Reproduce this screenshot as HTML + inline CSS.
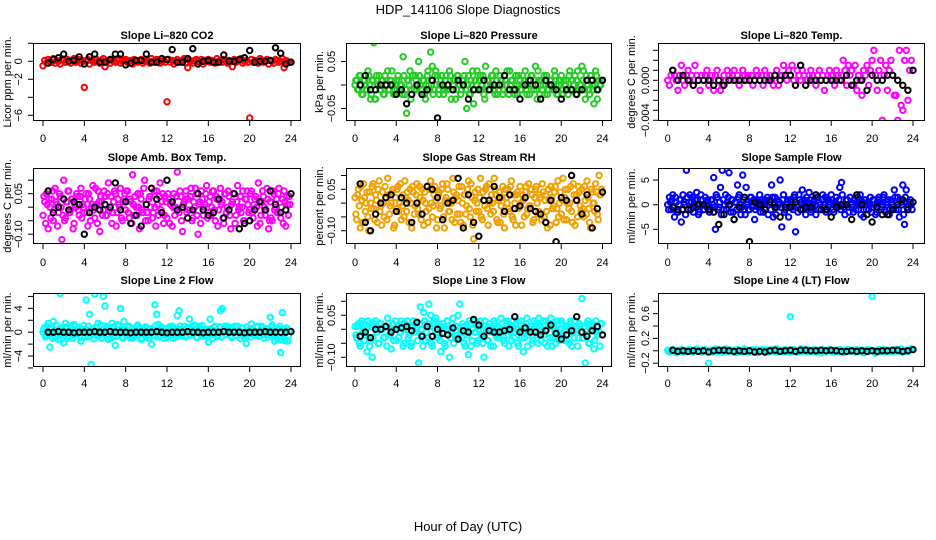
<!DOCTYPE html>
<html><head><meta charset="utf-8"><title>HDP_141106 Slope Diagnostics</title>
<style>
html,body{margin:0;padding:0;background:#fff;}
svg{display:block;font-family:"Liberation Sans",Arial,sans-serif;}
.tl{font-size:11px;fill:#000;}
.pt{font-size:11px;font-weight:bold;fill:#000;}
</style></head>
<body>
<svg id="chart" width="936" height="540" viewBox="0 0 936 540" xmlns="http://www.w3.org/2000/svg">
<rect x="0" y="0" width="936" height="540" fill="#fff"/>
<text x="468" y="14" text-anchor="middle" font-size="13">HDP_141106  Slope Diagnostics</text>
<text x="468" y="531" text-anchor="middle" font-size="13">Hour of Day (UTC)</text>
</svg>
<script>
// ---- data (values in panel units; see unitScale in panel config) ----
const xTicks = [0,4,8,12,16,20,24];
const co2Slope = [
-5,1,-2,2,0,-1,3,-2,1,0,-3,2,
1,-1,2,0,-2,1,3,-1,0,2,-2,1,
-29,0,2,-3,1,0,-1,2,0,-2,1,3,
-6,0,1,-2,2,0,-1,1,3,-2,0,1,
2,-1,0,1,-3,2,0,-1,1,2,-2,0,
1,0,-2,3,0,-1,2,1,-2,0,1,-1,
-45,2,-1,1,-3,0,2,-1,0,1,3,-2,
-7,1,0,-2,1,2,0,-1,2,-3,1,0,
2,-1,1,0,-2,3,0,1,-1,2,0,-2,
1,0,-6,2,-1,0,1,3,-2,0,1,-1,
-63,2,-1,1,0,-2,3,1,-1,0,2,-3,
1,0,-2,2,1,-1,0,3,-7,1,0,-1];
const co2Black = [-2,2,4,8,0,1,5,-3,5,8,-1,-1,2,8,8,-4,-2,1,1,8,-1,-1,3,2,13,-1,-1,3,14,-3,0,1,-1,-1,7,0,0,2,4,12,-1,0,0,1,15,9,-3,-1];
const pressSlope = [
0,1,-1,2,-2,1,0,-1,2,-3,1,9,
-3,0,2,-1,1,-2,0,3,-1,1,0,-2,
1,2,-1,0,6,-2,-6,1,3,-1,10,2,
-1,5,0,-2,1,-3,2,0,7,4,-1,3,
2,-2,1,0,-1,2,-1,3,-3,0,1,-1,
2,0,-1,1,5,-5,2,-2,0,-4,1,3,
-1,2,0,-2,4,1,-1,0,2,-1,3,-2,
0,1,-2,2,0,-1,3,1,-1,-2,0,2,
1,-1,0,3,-2,1,0,2,-1,4,-3,1,
0,-1,2,1,-2,0,1,-1,3,0,-2,1,
2,-1,0,1,-2,3,-1,0,2,1,-1,0,
4,3,-3,1,-1,2,0,-4,3,-3,1,0];
const pressSlope2 = [
1,-1,2,0,-2,1,-1,3,0,-2,1,-3,
2,0,-1,1,-2,2,0,-1,1,3,-2,0,
-1,1,0,-2,2,-1,1,0,-3,2,-1,1,
0,2,-1,1,-2,0,3,-1,1,-2,2,0,
-1,0,2,-2,1,-1,0,2,-1,1,-3,2,
0,-2,1,2,-1,0,-2,1,3,-1,0,2,
1,-1,2,-3,0,1,-1,2,0,-2,1,-1,
2,0,-1,1,3,-2,0,1,-1,2,-2,0,
-1,2,1,-1,0,-2,2,0,1,-1,3,-2,
1,0,-2,2,-1,1,0,-1,2,-2,0,1,
-2,1,0,-1,2,-1,1,0,-2,3,-1,0,
1,-1,2,0,-2,1,-1,0,2,-1,0,1];
const pressBlack = [0,2,-1,-1,0,0,0,-2,-1,-4,-2,0,-2,-1,1,-7,0,0,-1,1,0,-3,-1,-1,1,-1,0,0,2,-1,-1,-3,0,1,0,-3,1,0,-1,-3,-1,-1,-2,-1,1,1,-1,1];
const licorTempSlope = [
0,-1,1,2,1,0,-2,1,3,0,-1,1,
2,0,1,-1,3,1,0,-2,1,0,1,2,
-1,0,1,-2,1,2,0,-2,-1,1,0,2,
1,0,1,2,0,1,-1,0,2,1,0,1,
0,1,-1,0,2,1,0,1,-1,2,1,0,
1,0,-1,1,2,-1,0,1,3,1,0,2,
1,3,0,-1,2,1,0,2,1,-1,0,1,
2,1,0,-1,1,2,0,1,-2,0,1,2,
1,0,-1,2,1,0,1,4,2,-1,3,1,
2,-1,3,-2,1,0,-3,2,1,3,-1,2,
4,6,1,-2,2,4,-8,1,3,-2,2,4,
1,-3,-3,-8,6,-5,-6,4,6,-4,2,4];
const licorTempBlack = [2,0,1,0,-1,0,0,0,-1,0,-1,0,0,0,0,0,0,0,0,0,1,0,1,1,-1,3,-1,0,0,0,0,0,0,0,1,-1,0,0,-2,1,0,0,1,1,0,-1,-2,2];
const ambBoxSlope = [
-3,2,5,-8,0,3,-5,7,1,-2,4,-12,
10,-4,2,6,-1,3,-6,0,4,-3,7,1,
-2,5,-7,3,0,8,-4,1,6,-9,2,-1,
4,-3,9,0,-6,2,5,-2,1,7,-5,3,
-1,6,-4,2,12,-3,0,5,-8,3,-2,10,
1,-5,4,7,-2,0,6,-3,9,2,-6,4,
-4,3,1,-7,5,0,13,-2,4,-9,2,6,
3,-1,7,-4,0,5,-10,2,6,-3,1,8,
-2,4,0,6,-5,3,-1,7,2,-6,5,0,
4,-8,2,5,-3,8,0,-2,6,-5,3,1,
-1,6,-4,3,0,9,-6,2,4,-3,7,-8,
2,-5,5,0,-2,7,-4,3,6,-7,1,4];
const ambBoxSlope2 = [
4,-6,1,3,-4,6,-1,2,-7,5,0,-3,
-5,2,6,-2,3,-8,1,5,-1,4,-4,0,
3,-2,5,-5,1,-1,7,-6,2,4,-3,6,
-3,5,-1,4,-2,6,-7,3,0,-4,2,5,
6,-2,3,-6,1,4,-3,0,5,-1,7,-5,
-2,3,0,-4,6,-7,1,4,-1,5,-3,2,
5,-6,2,0,-3,4,-1,6,-5,1,3,-2,
-1,4,-5,2,7,-3,1,-6,3,0,5,-4,
2,-3,6,-1,4,-7,3,1,-4,5,-2,6,
-3,1,5,-6,2,-1,4,0,-5,3,6,-2,
5,-2,1,4,-7,2,-3,6,0,-1,3,-5,
-4,6,-1,3,5,-2,0,-6,2,4,-3,1];
const ambBoxBlack = [6,-2,0,3,-1,2,1,-10,-2,0,-1,1,0,9,-1,2,-6,-3,-7,1,7,3,-2,10,2,-1,0,-4,-1,5,-1,-3,-2,3,-4,-1,5,-8,-6,-5,-1,2,-1,6,1,-2,-1,5];
const rhSlope = [
2,-6,5,-9,1,7,-3,4,-10,0,6,-2,
3,-7,8,-1,4,-5,2,9,-4,0,5,-8,
-2,6,0,-6,3,8,-3,1,5,-9,4,-1,
7,-4,2,5,-8,0,6,-2,8,-5,3,1,
-6,4,-1,7,-9,2,5,-3,0,9,-7,3,
1,-4,6,-8,3,-1,8,-5,2,-13,4,0,
-3,9,-6,1,5,-2,7,-4,0,9,3,-7,
4,-1,6,-9,2,5,-3,8,-6,0,3,-2,
6,-8,1,4,-4,7,-1,3,-6,5,0,-3,
2,7,-5,3,-9,1,6,-2,4,-7,8,0,
-4,9,2,-6,5,0,-3,7,-8,3,6,-1,
5,-5,1,8,-2,-9,4,0,7,-4,10,3];
const rhSlope2 = [
-4,3,-1,6,-7,2,0,-5,4,-2,7,-6,
1,5,-3,-8,0,6,-6,3,-1,4,-9,2,
5,-3,7,-1,-5,2,4,-7,0,6,-4,3,
-2,6,-6,1,4,-3,-7,5,0,-1,6,-9,
3,-2,5,-5,1,7,-3,0,-6,4,2,-4,
6,-7,0,3,-4,5,-2,7,-8,1,-3,5,
2,-5,4,-1,6,-8,0,3,-3,5,-6,1,
-7,2,-4,5,0,-2,6,-5,3,-8,4,-1,
0,3,-5,6,-2,-1,5,-7,2,6,-4,3,
-6,4,1,-3,5,-8,2,-1,6,-2,-5,4,
1,-6,5,0,-2,6,-7,3,1,-5,4,-3,
-2,6,-4,2,-7,5,0,-3,4,-6,3,5];
const rhBlack = [7,-7,-10,-4,0,2,3,-3,2,0,-7,0,-4,6,5,2,-6,0,1,9,-9,3,-7,-12,1,1,6,2,-3,3,-2,-1,2,-2,-3,-4,-7,1,-14,2,1,10,1,-4,3,-9,-2,4];
const sampleFlowSlope = [
0,1.5,-1,2,-2.5,0.5,-1.5,1,-3.5,2,0,7,
-1,2,0.5,-1.5,1,2.5,-2,0,1,-1,1.5,-0.5,
0,-1,1,5.5,-5,1.5,-0.5,3.5,7,-1,2,0.5,
6.5,-1.5,1,-3,0.5,4,2,-2,6,-1,3.5,0,
-1,1.5,0,-3,1,-0.5,2,0,-1.5,1,0.5,-2,
1,4,-2.5,1.5,-0.5,0,5,-4.5,2,-1,0.5,-2.5,
1,-0.5,1.5,-5.5,0,2,-1,3,1,-2,0.5,2.5,
-1.5,0,1,-2,1.5,0.5,-1,2,0,-1.5,1,0.5,
2,-1,0,1.5,-0.5,3.5,4.5,0,-2,1,-0.5,1.5,
0,-1.5,1,0.5,-1,2,0,-2.5,1,0,-1,1.5,
-0.5,1,-2,0.5,1.5,-1,0,2,-1.5,0.5,-2,1,
0,3,-1,1.5,-2.5,0.5,4,-4,3,-1,0.5,0];
const sampleFlowSlope2 = [
-1,0.5,1,-0.5,1.5,-1.5,0,1,-1,0.5,-2,1.5,
0.5,-1,1.5,0,-0.5,1,-1.5,2,0,-1,0.5,1,
-1.5,1,0,-0.5,2,-1,0.5,-2,1,0,-1,1.5,
0,1,-1.5,0.5,-1,1.5,0,-0.5,1,-2,0.5,-1,
1.5,-0.5,1,-1,0,0.5,-1.5,1,0.5,-1,1.5,0,
-1,1.5,0,-2,1,0.5,-0.5,1,-1.5,0,1,-0.5,
0.5,-1,2,0,-1.5,1,0.5,-1,0,1.5,-0.5,1,
-1,0.5,0,1.5,-1,0,1,-0.5,1.5,-1,0,0.5,
1,-1.5,0.5,0,1,-1,2,-0.5,0,1,-1.5,0.5,
-0.5,1,-1,1.5,0,-2,0.5,1,-1,0.5,0,-1.5,
1,0,-1.5,1,0.5,-0.5,1.5,-1,0,1,-1,0.5,
-1,1.5,0.5,-1,1,0,-2,1.5,-0.5,0,1,-1];
const sampleFlowBlack = [-0.5,-1,-1,-1,-0.5,0,0,-1,-1.5,-4,-2,0,-3,-0.5,1.5,-7.5,0.5,0,-1,0.5,-0.5,-2.5,-0.5,-0.5,0.5,-1,-0.5,-0.5,2,-1,-1,-2.5,-0.5,0,0,-3,2,0,-2,-3.5,-0.5,-2,-2,-1,0,1,-1,0.5];
const line2Slope = [
0,0.8,-0.5,1.5,-2.5,0.5,1.8,-0.8,0,-1.2,6.5,0.5,
-1.8,1.5,0,-0.6,1,-1,1.3,0.2,-0.4,0.8,-1.5,0.3,
0.5,5.4,-0.8,3,-5.4,0.6,6.4,-0.5,1.5,0,-1,6,
4.4,0.8,-1.2,0.3,1.5,-0.6,-2.2,0.2,1,4,-0.8,1.8,
0.4,-0.6,1,0,-1,0.6,-0.3,1.2,0,-1.2,0.5,-0.4,
0.8,-0.5,0,-2,0.4,4.6,3,1.3,-0.6,0.2,-1,0.5,
0,0.6,-0.4,1,0.3,-0.8,2.8,3.6,0.5,-0.3,1,-0.5,
0.6,2.2,-0.4,0,1.2,-0.8,0.3,1,-0.5,0.4,0,-0.6,
-1.7,2.2,0.5,-0.4,1,-0.8,0,3.6,4,0.5,-0.3,1,
0,-0.6,0.8,0.3,-0.5,1,0,-0.4,0.6,-1,-1.9,0.2,
0.5,1.4,-0.3,0,0.8,-0.6,0.2,1,-0.4,0.5,0,-0.8,
2.5,1.2,-0.5,0,-1.2,0.6,-3.4,3.3,-1,0.4,-1.5,0.3];
const line2Slope2 = [
0.5,-0.8,1,-0.3,0.6,-1,0.2,1.2,-0.6,0.4,-1.2,0.8,
-0.4,0.9,-1,0.3,0.7,-0.5,1,-0.2,0.5,-0.9,0.3,1.1,
-0.7,0.4,1,-0.6,0.2,-1.1,0.8,0,-0.5,1.2,-0.3,0.6,
1,-0.4,0.5,-1,0.9,0.2,-0.7,1.3,-0.2,0.5,-1,0.4,
-0.3,0.8,-0.9,0.5,0.2,-0.6,1,-0.4,0.7,-1,0.3,0.9,
0.4,-1,0.6,0.1,-0.5,1.1,-0.8,0.3,0.9,-0.4,0.6,-0.9,
-0.6,0.9,0.2,-1,0.7,-0.3,0.5,1,-0.6,0.2,-0.8,0.6,
0.8,-0.5,1,-0.2,0.4,-0.9,0.6,-0.1,1.1,-0.7,0.3,0.5,
-0.2,0.6,-1,0.8,0.3,-0.5,0.9,-0.8,0.2,1,-0.4,0.6,
0.5,-0.9,0.3,1,-0.6,0.4,-1.1,0.7,0,-0.5,0.9,-0.3,
-0.8,0.6,0.1,-0.5,1,-0.7,0.4,0.8,-1,0.3,0.6,-0.4,
0.9,-0.3,-1.5,0.6,-0.8,1,-1.2,0.4,-1.4,0.7,-0.6,0.2];
const line2Black = [0,0,0.1,0,0,-0.1,0,0,0,0.1,0,0,0.1,0,0,0,-0.1,0,0,0,0,0.1,0,-0.1,0,0,0,0.1,0,0,-0.1,0,0,0,0.1,0,0,0,-0.1,0,0,0,0.1,0,0,0,0,0.1];
const line3Slope = [
1,-3,2,-6,3,0,-2,-8,2,-4,-10,1,
3,-1,-5,2,0,-3,1,4,-2,-7,2,0,
-4,1,-1,3,-6,2,0,-3,1,-5,3,-1,
0,-12,8,-2,6,-4,2,9,5,-6,3,4,
-3,1,-8,2,-5,0,3,-10,-1,4,-2,1,
5,9,-3,1,-6,0,-9,2,-4,3,-1,-5,
0,3,-2,-10,1,-4,2,-6,0,3,-2,1,
-3,4,0,-5,2,-2,1,-4,3,-1,0,-6,
2,-3,-8,1,4,-2,0,-5,3,-1,2,4,
-4,0,-2,3,-6,1,4,-3,0,-5,2,-1,
3,-2,0,-4,1,2,-6,-1,3,0,-3,1,
11,-3,-12,2,-5,0,1,-7,3,-2,-1,2];
const line3Slope2 = [
-2,1,-5,2,-1,-4,0,3,-6,1,-3,2,
-1,-5,2,0,-3,1,-6,2,-2,0,-4,3,
1,-3,-1,2,-5,0,3,-2,-6,1,-1,2,
-4,2,0,-6,3,-1,-3,1,-5,2,0,-2,
2,-4,1,-1,-6,3,0,-3,2,-5,1,-2,
-3,0,2,-5,1,-2,3,-6,0,-1,2,-4,
1,-2,-5,3,0,-4,1,-1,-6,2,-3,0,
-2,2,-4,0,3,-6,-1,1,-3,2,-5,0,
3,-1,-3,2,-6,0,1,-4,2,-2,-5,1,
-1,3,-5,0,2,-3,-6,1,-1,3,-4,0,
2,-4,1,-2,-5,3,0,-3,1,-6,2,-1,
-3,1,-2,3,-5,0,2,-4,-1,1,-6,2];
const line3Black = [-2.5,-1,-3,0,0,1,-1,0,0.5,1,-0.5,2.5,-2.5,1,-2.5,0,-1.5,-2,0.5,-3.5,-0.5,-1,3.5,1.5,-2.5,-0.5,-1,-1,-0.5,0,4.5,-1,0.5,-1,-1,-2,-0.5,1.5,-1.5,-3.5,-2,-0.5,4.5,-1,-2.5,-0.5,1,-2];
const line4Slope = [
1,-2,0,2,-1,-3,1,0,2,-2,0,1,
-1,2,0,-2,1,3,-1,0,-2,1,2,-1,
-20,1,-2,0,3,-1,2,1,-2,0,3,-1,
2,0,-1,1,-3,2,0,-2,1,3,-1,0,
-2,1,0,2,-1,-3,1,0,2,-1,1,-2,
0,2,-1,1,3,-2,0,1,-1,2,0,-2,
55,-1,2,0,-2,1,3,-1,0,2,-2,1,
-1,0,2,-2,1,0,-3,2,1,-1,0,2,
1,-2,0,1,-1,2,0,-3,1,0,2,-1,
0,1,-2,2,-1,0,1,-3,0,2,-1,1,
88,0,-4,1,2,-1,0,2,-2,1,0,-1,
1,-2,2,0,-1,3,-2,0,1,-1,2,3];
const line4Black = [1,-1,0,-1,0,-1,0,-2,0,1,1,0,-1,0,-1,0,-2,-1,-2,0,1,-1,0,1,-1,1,1,0,0,1,0,1,0,-1,-1,0,-1,0,-1,0,-1,0,0,1,1,-1,0,2];

// sampling grids (hours)
const tColor = []; for (let i = 0; i < 144; i++) tColor.push(i / 6);
const tColor2 = []; for (let i = 0; i < 144; i++) tColor2.push(i / 6 + 1 / 12);
const tBlack = []; for (let i = 1; i <= 48; i++) tBlack.push(i * 0.5);

const colBoxes = [[33,301,43,291],[346,612,355,602.5],[658,925,667.7,913]];
const rowBoxes = [[43,121],[168,244],[293,367]];
const rowTitleY = [39,161,284];
const rowXLabY = [142,266,387];
const colYLabX = [22,335,649];
const colYTitleX = [11,323,635];

const panels = [
 {name:'co2',title:'Slope Li\u2013820 CO2',yt:'Licor ppm per min.',c:0,r:0,zero:61.3,ppu:9,unit:0.1,col:'#ff0000',d:co2Slope,d2:null,b:co2Black,ticks:[2,0,-2,-4,-6],labs:[[0,'0'],[-2,'\u22122'],[-6,'\u22126']]},
 {name:'pressure',title:'Slope Li\u2013820 Pressure',yt:'kPa per min.',c:1,r:0,zero:85,ppu:470,unit:0.01,col:'#22cc22',d:pressSlope,d2:pressSlope2,b:pressBlack,ticks:[0.05,0,-0.05],labs:[[0.05,'0.05'],[-0.05,'\u22120.05']]},
 {name:'licor-temp',title:'Slope Li\u2013820 Temp.',yt:'degrees C per min.',c:2,r:0,zero:80.3,ppu:10000,unit:0.0005,col:'#ff00ff',d:licorTempSlope,d2:null,b:licorTempBlack,ticks:[0.003,0.002,0.001,0,-0.001,-0.002,-0.003,-0.004],labs:[[0,'0.000'],[-0.004,'\u22120.004']]},
 {name:'amb-box-temp',title:'Slope Amb. Box Temp.',yt:'degrees C per min.',c:0,r:1,zero:207.2,ppu:270,unit:0.01,col:'#ff00ff',d:ambBoxSlope,d2:ambBoxSlope2,b:ambBoxBlack,ticks:[0.1,0.05,0,-0.05,-0.1],labs:[[0.05,'0.05'],[-0.1,'\u22120.10']]},
 {name:'gas-stream-rh',title:'Slope Gas Stream RH',yt:'percent per min.',c:1,r:1,zero:203.1,ppu:276,unit:0.01,col:'#f0a000',d:rhSlope,d2:rhSlope2,b:rhBlack,ticks:[0.1,0.05,0,-0.05,-0.1],labs:[[0.05,'0.05'],[-0.1,'\u22120.10']]},
 {name:'sample-flow',title:'Slope Sample Flow',yt:'ml/min per min.',c:2,r:1,zero:204.7,ppu:4.93,unit:1,col:'#0000ff',d:sampleFlowSlope,d2:sampleFlowSlope2,b:sampleFlowBlack,ticks:[5,0,-5],labs:[[5,'5'],[0,'0'],[-5,'\u22125']]},
 {name:'line2-flow',title:'Slope Line 2 Flow',yt:'ml/min per min.',c:0,r:2,zero:332.2,ppu:5.96,unit:1,col:'#00ffff',d:line2Slope,d2:line2Slope2,b:line2Black,ticks:[6,4,2,0,-2,-4,-6],labs:[[4,'4'],[0,'0'],[-4,'\u22124']]},
 {name:'line3-flow',title:'Slope Line 3 Flow',yt:'ml/min per min.',c:1,r:2,zero:329.3,ppu:280,unit:0.01,col:'#00ffff',d:line3Slope,d2:line3Slope2,b:line3Black,ticks:[0.1,0.05,0,-0.05,-0.1],labs:[[0.05,'0.05'],[-0.1,'\u22120.10']]},
 {name:'line4-flow',title:'Slope Line 4 (LT) Flow',yt:'ml/min per min.',c:2,r:2,zero:350.8,ppu:62,unit:0.01,col:'#00ffff',d:line4Slope,d2:null,b:line4Black,ticks:[0.8,0.6,0.4,0.2,0,-0.2],labs:[[0.6,'0.6'],[0.2,'0.2'],[-0.2,'\u22120.2']]}
];

const NS = 'http://www.w3.org/2000/svg';
const svg = document.getElementById('chart');
function mk(tag, attrs, parent) {
  const e = document.createElementNS(NS, tag);
  for (const k in attrs) e.setAttribute(k, attrs[k]);
  (parent || svg).appendChild(e);
  return e;
}

panels.forEach(function (p, pi) {
  const cb = colBoxes[p.c], rb = rowBoxes[p.r];
  const L = cb[0], R = cb[1], T = rb[0], B = rb[1];
  const xs = function (t) { return cb[2] + (cb[3] - cb[2]) * t / 24; };
  const ys = function (v) { return p.zero - v * p.ppu; };
  const g = mk('g', {});
  
  
  const cp = mk('clipPath', {id: 'clip' + pi}, g);
  mk('rect', {x: L, y: T, width: R - L, height: B - T}, cp);
  const title = mk('text', {x: (L + R) / 2, y: rowTitleY[p.r], 'text-anchor': 'middle', class: 'pt'}, g);
  title.textContent = p.title;
  
  
  // colored series
  const sg = mk('g', {'clip-path': 'url(#clip' + pi + ')', fill: 'none', stroke: p.col, 'stroke-width': 2}, g);
  
  
  p.d.forEach(function (v, i) {
    const c = mk('circle', {cx: xs(tColor[i]).toFixed(1), cy: ys(v * p.unit).toFixed(1), r: 2.7}, sg);
    
    
  });
  if (p.d2) {
    p.d2.forEach(function (v, i) {
      const c = mk('circle', {cx: xs(tColor2[i]).toFixed(1), cy: ys(v * p.unit).toFixed(1), r: 2.7}, sg);
      
      
    });
  }
  const bg = mk('g', {'clip-path': 'url(#clip' + pi + ')', fill: 'none', stroke: '#000', 'stroke-width': 2}, g);
  
  
  p.b.forEach(function (v, i) {
    const c = mk('circle', {cx: xs(tBlack[i]).toFixed(1), cy: ys(v * p.unit).toFixed(1), r: 2.7}, bg);
    
    
  });
  // box
  const box = mk('rect', {x: L + 0.5, y: T + 0.5, width: R - L - 1, height: B - T - 1, fill: 'none', stroke: '#000', 'stroke-width': 1}, g);
  
  
  // x axis
  const xa = mk('g', {}, g);
  
  
  xTicks.forEach(function (t) {
    const x = xs(t);
    mk('line', {x1: x, x2: x, y1: B, y2: B + 5, stroke: '#000'}, xa);
    const tx = mk('text', {x: x, y: rowXLabY[p.r], 'text-anchor': 'middle', class: 'tl'}, xa);
    tx.textContent = String(t);
    
    
  });
  // y axis
  const ya = mk('g', {}, g);
  
  
  p.ticks.forEach(function (v) {
    const y = ys(v);
    if (y < T - 1 || y > B + 1) return;
    mk('line', {x1: L - 5, x2: L, y1: y, y2: y, stroke: '#000'}, ya);
  });
  p.labs.forEach(function (l) {
    const y = ys(l[0]);
    const tx = mk('text', {x: colYLabX[p.c], y: y, 'text-anchor': 'middle', class: 'tl', transform: 'rotate(-90 ' + colYLabX[p.c] + ' ' + y + ')'}, ya);
    tx.textContent = l[1];
    
    
  });
  const cy = (T + B) / 2;
  const yt = mk('text', {x: colYTitleX[p.c], y: cy, 'text-anchor': 'middle', class: 'tl', transform: 'rotate(-90 ' + colYTitleX[p.c] + ' ' + cy + ')'}, g);
  yt.textContent = p.yt;
  
  
});
</script>
</body></html>
